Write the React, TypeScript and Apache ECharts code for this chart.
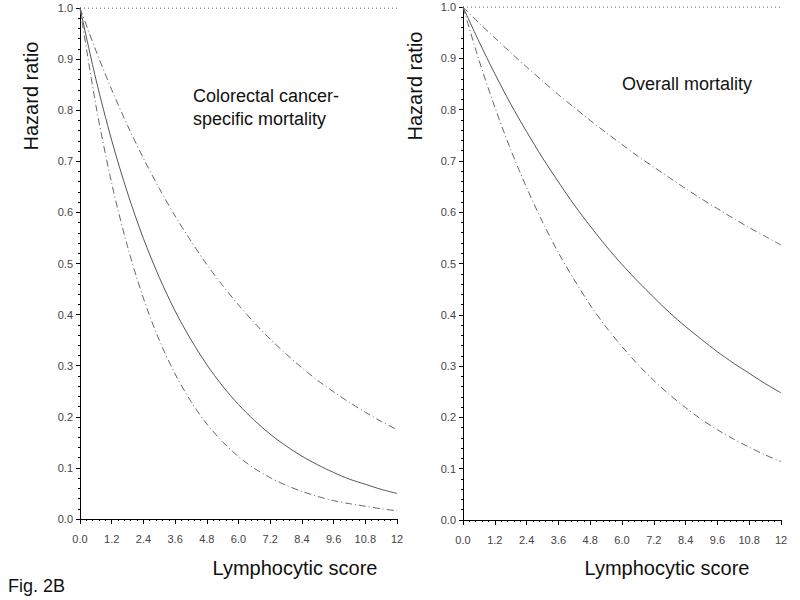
import React, { useEffect, useRef } from "react";
import * as echarts from "echarts";

// Lymphocytic score sample points
const scores = [0, 0.6, 1.2, 1.8, 2.4, 3.0, 3.6, 4.2, 4.8, 5.4, 6.0, 6.6, 7.2, 7.8, 8.4, 9.0, 9.6, 10.2, 10.8, 11.4, 12];

// Colorectal cancer-specific mortality
const crcHR = [1.0, 0.861, 0.741, 0.638, 0.549, 0.473, 0.407, 0.351, 0.302, 0.26, 0.224, 0.193, 0.166, 0.143, 0.123, 0.106, 0.091, 0.078, 0.068, 0.058, 0.05];
const crcUpper = [1.0, 0.917, 0.84, 0.77, 0.706, 0.647, 0.593, 0.544, 0.498, 0.457, 0.419, 0.384, 0.352, 0.323, 0.296, 0.271, 0.249, 0.228, 0.209, 0.191, 0.175];
const crcLower = [1.0, 0.81, 0.657, 0.533, 0.432, 0.35, 0.284, 0.23, 0.186, 0.151, 0.122, 0.099, 0.081, 0.066, 0.054, 0.044, 0.036, 0.030, 0.025, 0.020, 0.016];

// Overall mortality
const allHR = [1.0, 0.933, 0.87, 0.811, 0.757, 0.706, 0.659, 0.614, 0.573, 0.534, 0.498, 0.465, 0.434, 0.404, 0.377, 0.352, 0.328, 0.306, 0.286, 0.266, 0.248];
const allUpper = [1.0, 0.969, 0.94, 0.911, 0.883, 0.856, 0.829, 0.804, 0.779, 0.755, 0.732, 0.709, 0.688, 0.667, 0.646, 0.626, 0.607, 0.588, 0.57, 0.553, 0.536];
const allLower = [1.0, 0.897, 0.805, 0.722, 0.648, 0.581, 0.521, 0.468, 0.419, 0.376, 0.338, 0.303, 0.272, 0.244, 0.219, 0.196, 0.176, 0.158, 0.142, 0.127, 0.114];

const refLine = [[0, 1], [12, 1]];

const panelTitles = ["Colorectal cancer-\nspecific mortality", "Overall mortality"];
const yTitle = "Hazard ratio";
const xTitle = "Lymphocytic score";
const figLabel = "Fig. 2B";

const FONT = "Liberation Sans, Arial, sans-serif";

function pair(xs: number[], ys: number[]) {
  return xs.map((x, i) => [x, ys[i]]);
}

export default function App() {
  const ref = useRef<HTMLDivElement>(null);
  useEffect(() => {
    if (!ref.current) return;
    const chart = echarts.init(ref.current, null, { renderer: "svg" });

    const xAxisBase = (gridIndex: number) => ({
      type: "value",
      gridIndex,
      min: 0,
      max: 12,
      interval: 1.2,
      axisLine: { show: true, lineStyle: { color: "#000", width: 1 } },
      axisTick: { show: true, length: 5, lineStyle: { color: "#000" } },
      minorTick: { show: true, splitNumber: 5, length: 2, lineStyle: { color: "#000" } },
      splitLine: { show: false },
      axisLabel: {
        color: "#444",
        fontSize: 11,
        fontFamily: FONT,
        margin: 14,
        formatter: (v: number) => (Math.abs(v - 12) < 1e-6 ? "12" : v.toFixed(1)),
      },
    });
    const yAxisBase = (gridIndex: number) => ({
      type: "value",
      gridIndex,
      min: 0,
      max: 1,
      interval: 0.1,
      offset: 2,
      axisLine: { show: true, lineStyle: { color: "#000", width: 1 } },
      axisTick: { show: true, length: 4, lineStyle: { color: "#000" } },
      minorTick: { show: true, splitNumber: 5, length: 2, lineStyle: { color: "#000" } },
      splitLine: { show: false },
      axisLabel: {
        color: "#444",
        fontSize: 11,
        fontFamily: FONT,
        margin: 5,
        formatter: (v: number) => v.toFixed(1),
      },
    });

    const dashDot = [7, 3, 1, 3];
    const mk = (name: string, gi: number, ys: number[], type: any, color: string) => ({
      name,
      type: "line",
      xAxisIndex: gi,
      yAxisIndex: gi,
      data: pair(scores, ys),
      smooth: 0.3,
      showSymbol: false,
      symbol: "none",
      lineStyle: { color, width: 1, type },
    });
    const ref1 = (gi: number) => ({
      type: "line",
      xAxisIndex: gi,
      yAxisIndex: gi,
      data: refLine,
      showSymbol: false,
      symbol: "none",
      lineStyle: { color: "#333", width: 1, type: [1, 3] },
    });

    chart.setOption({
      animation: false,
      backgroundColor: "#fff",
      grid: [
        { left: 80, top: 8, width: 317, height: 511 },
        { left: 463, top: 7, width: 318, height: 513 },
      ],
      xAxis: [xAxisBase(0), xAxisBase(1)],
      yAxis: [yAxisBase(0), yAxisBase(1)],
      series: [
        ref1(0),
        mk("crcUpper", 0, crcUpper, dashDot, "#666"),
        mk("crcHR", 0, crcHR, "solid", "#555"),
        mk("crcLower", 0, crcLower, dashDot, "#666"),
        ref1(1),
        mk("allUpper", 1, allUpper, dashDot, "#666"),
        mk("allHR", 1, allHR, "solid", "#555"),
        mk("allLower", 1, allLower, dashDot, "#666"),
      ],
      graphic: [
        {
          type: "text", x: 31, y: 96, rotation: Math.PI / 2,
          style: { text: yTitle, font: `20px ${FONT}`, fill: "#111", textAlign: "center", textVerticalAlign: "middle" },
        },
        {
          type: "text", x: 415, y: 86, rotation: Math.PI / 2,
          style: { text: yTitle, font: `20px ${FONT}`, fill: "#111", textAlign: "center", textVerticalAlign: "middle" },
        },
        {
          type: "text", x: 295, y: 568,
          style: { text: xTitle, font: `20px ${FONT}`, fill: "#111", textAlign: "center", textVerticalAlign: "middle" },
        },
        {
          type: "text", x: 667, y: 568,
          style: { text: xTitle, font: `20px ${FONT}`, fill: "#111", textAlign: "center", textVerticalAlign: "middle" },
        },
        {
          type: "text", x: 193, y: 84,
          style: { text: panelTitles[0], font: `18px ${FONT}`, fill: "#111", lineHeight: 23, textAlign: "left", textVerticalAlign: "top" },
        },
        {
          type: "text", x: 622, y: 75,
          style: { text: panelTitles[1], font: `18px ${FONT}`, fill: "#111", textAlign: "left", textVerticalAlign: "top" },
        },
        {
          type: "text", x: 8, y: 586,
          style: { text: figLabel, font: `18px ${FONT}`, fill: "#111", textAlign: "left", textVerticalAlign: "middle" },
        },
      ],
    });
    return () => chart.dispose();
  }, []);
  return (
    <div
      ref={ref}
      style={{ position: "fixed", left: 0, top: 0, width: 800, height: 600, background: "#fff" }}
    />
  );
}
